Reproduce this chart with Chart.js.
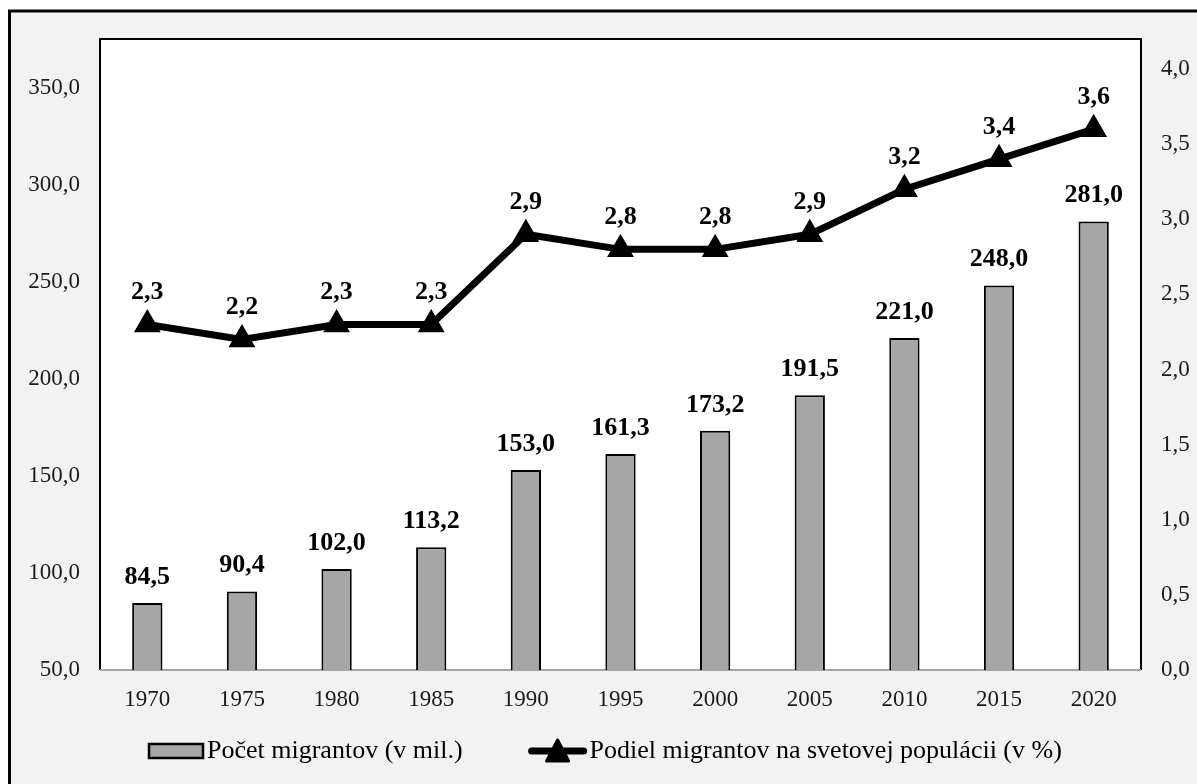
<!DOCTYPE html>
<html>
<head>
<meta charset="utf-8">
<script src="https://cdn.jsdelivr.net/npm/chart.js@4.4.1/dist/chart.umd.min.js"></script>
<style>
    html, body { margin: 0; padding: 0; background: #ffffff; }
    #wrap { width: 1197px; height: 784px; }
</style>
</head>
<body>
<div id="wrap"><canvas id="chart" width="1197" height="784"></canvas></div>
<script>
const years = ['1970', '1975', '1980', '1985', '1990', '1995', '2000', '2005', '2010', '2015', '2020'];
const migrants = [84.5, 90.4, 102.0, 113.2, 153.0, 161.3, 173.2, 191.5, 221.0, 248.0, 281.0];
const share = [2.3, 2.2, 2.3, 2.3, 2.9, 2.8, 2.8, 2.9, 3.2, 3.4, 3.6];
const leftTicks = { min: 50, max: 375, step: 50 };
const rightTicks = { min: 0, max: 4.2, step: 0.5 };
const barLabel = 'Počet migrantov (v mil.)';
const lineLabel = 'Podiel migrantov na svetovej populácii (v %)';

const serif = "'Liberation Serif', 'Times New Roman', serif";
const fmt = v => Number(v).toFixed(1).replace('.', ',');

// frame, plot background and borders
const framePlugin = {
    id: 'frame',
    beforeDraw(chart) {
        const ctx = chart.ctx;
        const a = chart.chartArea;
        ctx.save();
        ctx.fillStyle = '#ffffff';
        ctx.fillRect(0, 0, chart.width, chart.height);
        ctx.fillStyle = '#f2f2f2';
        ctx.fillRect(9.5, 11, chart.width, chart.height);
        // outer frame: only left and top edges fall inside the picture
        ctx.lineWidth = 3;
        ctx.strokeStyle = '#000000';
        ctx.beginPath();
        ctx.moveTo(9.5, chart.height);
        ctx.lineTo(9.5, 11);
        ctx.lineTo(chart.width, 11);
        ctx.stroke();
        ctx.fillStyle = '#ffffff';
        ctx.fillRect(a.left, a.top, a.right - a.left, a.bottom - a.top);
        ctx.restore();
    },
    beforeDatasetsDraw(chart) {
        const ctx = chart.ctx;
        const a = chart.chartArea;
        ctx.save();
        ctx.lineWidth = 2;
        ctx.strokeStyle = '#000000';
        ctx.beginPath();
        ctx.moveTo(a.left, a.bottom);
        ctx.lineTo(a.left, a.top);
        ctx.lineTo(a.right, a.top);
        ctx.lineTo(a.right, a.bottom);
        ctx.stroke();
        ctx.strokeStyle = '#a6a6a6';
        ctx.beginPath();
        ctx.moveTo(a.left, a.bottom);
        ctx.lineTo(a.right, a.bottom);
        ctx.stroke();
        ctx.restore();
    }
};

// value labels above bars and points
const valuePlugin = {
    id: 'values',
    afterDatasetsDraw(chart) {
        const ctx = chart.ctx;
        ctx.save();
        ctx.font = 'bold 26px ' + serif;
        ctx.fillStyle = '#000000';
        ctx.textAlign = 'center';
        ctx.textBaseline = 'middle';
        chart.data.datasets.forEach((ds, i) => {
            const meta = chart.getDatasetMeta(i);
            const off = ds.type === 'line' ? 32 : 26;
            meta.data.forEach((el, j) => {
                ctx.fillText(fmt(ds.data[j]), el.x, el.y - off);
            });
        });
        ctx.restore();
    }
};

// legend drawn the way the spreadsheet shows it
const legendPlugin = {
    id: 'customLegend',
    afterDraw(chart) {
        const ctx = chart.ctx;
        const cy = 751;
        ctx.save();
        ctx.font = '26px ' + serif;
        ctx.textBaseline = 'middle';
        ctx.textAlign = 'left';

        let x = 149;
        ctx.fillStyle = '#a6a6a6';
        ctx.fillRect(x, cy - 7, 54, 14);
        ctx.lineWidth = 2.5;
        ctx.strokeStyle = '#000000';
        ctx.strokeRect(x, cy - 7, 54, 14);
        ctx.fillStyle = '#000000';
        ctx.fillText(barLabel, x + 58, cy);

        x = x + 58 + ctx.measureText(barLabel).width + 66;
        ctx.lineWidth = 7;
        ctx.lineCap = 'round';
        ctx.beginPath();
        ctx.moveTo(x + 3, cy);
        ctx.lineTo(x + 55, cy);
        ctx.stroke();
        ctx.lineJoin = 'round';
        ctx.lineWidth = 3;
        ctx.beginPath();
        ctx.moveTo(x + 29, cy - 11);
        ctx.lineTo(x + 40, cy + 10);
        ctx.lineTo(x + 18, cy + 10);
        ctx.closePath();
        ctx.fill();
        ctx.stroke();
        ctx.fillText(lineLabel, x + 61, cy);
        ctx.restore();
    }
};

const ctx = document.getElementById('chart').getContext('2d');
new Chart(ctx, {
    data: {
        labels: years,
        datasets: [
            {
                type: 'line',
                label: lineLabel,
                data: share,
                yAxisID: 'y1',
                order: 0,
                borderColor: '#000000',
                borderWidth: 7,
                tension: 0,
                pointStyle: 'triangle',
                pointRadius: 12.5,
                pointBackgroundColor: '#000000',
                pointBorderColor: '#000000',
                pointBorderWidth: 3
            },
            {
                type: 'bar',
                label: barLabel,
                data: migrants,
                yAxisID: 'y',
                order: 1,
                backgroundColor: '#a6a6a6',
                borderColor: '#000000',
                borderWidth: 2,
                barPercentage: 0.32,
                categoryPercentage: 1.0
            }
        ]
    },
    options: {
        responsive: false,
        animation: false,
        layout: { padding: { top: 39, left: 0, right: 0, bottom: 74 } },
        plugins: {
            legend: { display: false },
            tooltip: { enabled: false }
        },
        scales: {
            x: {
                grid: { display: false, drawTicks: false },
                border: { display: false },
                ticks: { color: '#1a1a1a', padding: 16, font: { family: serif, size: 23 } },
                afterFit: s => { s.height = 40; }
            },
            y: {
                position: 'left',
                min: leftTicks.min,
                max: leftTicks.max,
                grid: { display: false, drawTicks: false },
                border: { display: false },
                ticks: {
                    stepSize: leftTicks.step,
                    includeBounds: false,
                    padding: 20,
                    color: '#1a1a1a',
                    font: { family: serif, size: 23 },
                    callback: v => fmt(v)
                },
                afterFit: s => { s.width = 100; }
            },
            y1: {
                position: 'right',
                min: rightTicks.min,
                max: rightTicks.max,
                grid: { display: false, drawTicks: false },
                border: { display: false },
                ticks: {
                    stepSize: rightTicks.step,
                    includeBounds: false,
                    padding: 20,
                    color: '#1a1a1a',
                    font: { family: serif, size: 23 },
                    callback: v => fmt(v)
                },
                afterFit: s => { s.width = 56; }
            }
        }
    },
    plugins: [framePlugin, valuePlugin, legendPlugin]
});
</script>
</body>
</html>
